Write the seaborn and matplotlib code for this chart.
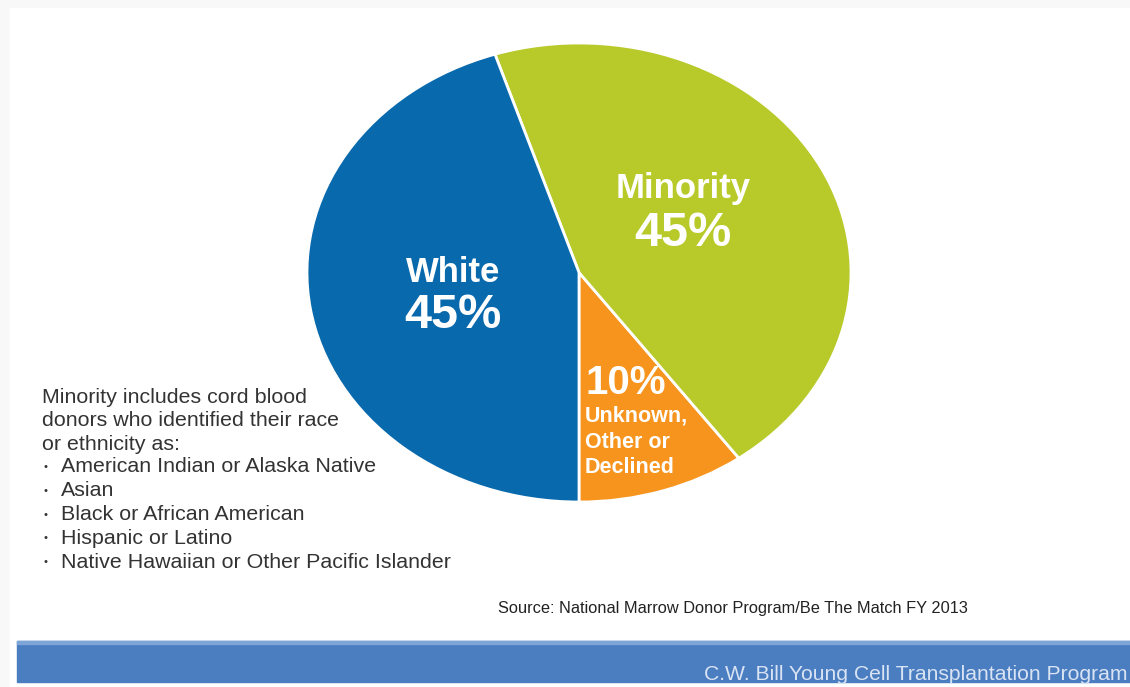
import matplotlib.pyplot as plt
import matplotlib.patches as mpatches
import seaborn as sns

# data
categories = ["Unknown, Other or Declined", "Minority", "White"]
shares = [10, 45, 45]
slice_colors = ["#f7941d", "#b8c92a", "#0969ad"]

note_lines = [
    "Minority includes cord blood",
    "donors who identified their race",
    "or ethnicity as:",
]
bullet_items = [
    "American Indian or Alaska Native",
    "Asian",
    "Black or African American",
    "Hispanic or Latino",
    "Native Hawaiian or Other Pacific Islander",
]
source_text = "Source: National Marrow Donor Program/Be The Match FY 2013"
banner_text = "C.W. Bill Young Cell Transplantation Program"

sns.set_theme(style="white")
plt.rcParams["font.family"] = ["Liberation Sans", "DejaVu Sans"]

W, H = 1130, 687
fig = plt.figure(figsize=(W / 100, H / 100), dpi=100, facecolor="#f8f8f8")

# pixel coords (from top-left) -> figure fraction
def px(x, y):
    return x / W, 1 - y / H

# white card + blue banner behind everything
fig.patches.append(mpatches.Rectangle(px(10, 687), (W - 10) / W, (687 - 8) / H,
                                      transform=fig.transFigure, color="white", zorder=-3))
fig.patches.append(mpatches.Rectangle(px(17, 682), (W - 17) / W, 41 / H,
                                      transform=fig.transFigure, color="#4b7dc1", zorder=-2))
fig.patches.append(mpatches.Rectangle(px(17, 644), (W - 17) / W, 3 / H,
                                      transform=fig.transFigure, color="#7ea5d8", zorder=-1))

# pie axes, stretched into an ellipse like the original
left, top, right, bottom = 307, 43, 851, 502
ax = fig.add_axes([left / W, 1 - bottom / H, (right - left) / W, (bottom - top) / H])
ax.set_zorder(1)
ax.patch.set_alpha(0)
ax.pie(shares, colors=slice_colors, startangle=-90, counterclock=True,
       wedgeprops=dict(edgecolor="white", linewidth=2), radius=1)
ax.set_aspect("auto")
ax.set_xlim(-1, 1)
ax.set_ylim(-1, 1)
ax.axis("off")

# slice labels
lab = dict(color="white", fontweight="bold", zorder=5)
fig.text(*px(683, 188), "Minority", ha="center", va="center", fontsize=25, **lab)
fig.text(*px(683, 233), "45%", ha="center", va="center", fontsize=35, **lab)
fig.text(*px(453, 272), "White", ha="center", va="center", fontsize=25, **lab)
fig.text(*px(453, 316), "45%", ha="center", va="center", fontsize=35, **lab)
fig.text(*px(585, 383), "10%", ha="left", va="center", fontsize=29, **lab)
fig.text(*px(585, 442), "Unknown,\nOther or\nDeclined", ha="left", va="center",
         fontsize=15.5, linespacing=1.3, **lab)

# explanatory note
for i, line in enumerate(note_lines):
    fig.text(*px(42, 397 + i * 23.5), line, ha="left", va="center",
             color="#333333", fontsize=15.4)
for i, item in enumerate(bullet_items):
    y = 467 + i * 23.8
    fig.text(*px(44, y), "•", ha="left", va="center", color="#333333", fontsize=8)
    fig.text(*px(61, y), item, ha="left", va="center", color="#333333", fontsize=15.4)

fig.text(*px(968, 609), source_text, ha="right", va="center", color="#222222",
         fontsize=11.8)
fig.text(*px(1128, 675), banner_text, ha="right", va="center", color="#d8e3f3",
         fontsize=15.2)

plt.savefig("out.png", dpi=100, facecolor=fig.get_facecolor())
